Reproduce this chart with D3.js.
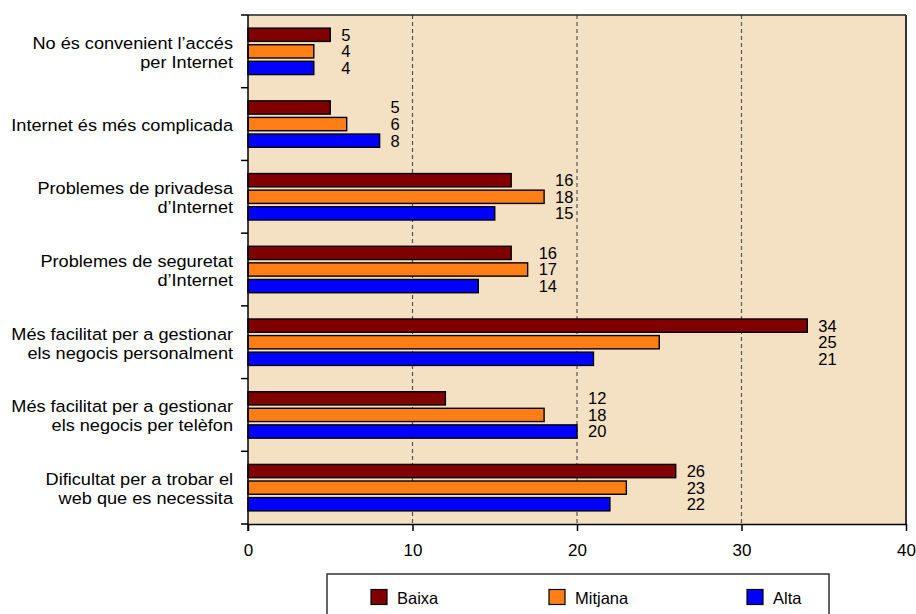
<!DOCTYPE html>
<html>
<head>
<meta charset="utf-8">
<script src="https://cdn.jsdelivr.net/npm/d3@7"></script>
<style>
  html, body { margin: 0; padding: 0; background: #ffffff; }
  svg { display: block; font-family: "Liberation Sans", Arial, sans-serif; }
</style>
</head>
<body>
<svg id="chart" width="916" height="614"></svg>
<script>
// Motius per no fer servir Internet, per nivell (Baixa / Mitjana / Alta)
const categories = [
  "No és convenient l’accés|per Internet",
  "Internet és més complicada",
  "Problemes de privadesa|d’Internet",
  "Problemes de seguretat|d’Internet",
  "Més facilitat per a gestionar|els negocis personalment",
  "Més facilitat per a gestionar|els negocis per telèfon",
  "Dificultat per a trobar el|web que es necessita"
];
const seriesNames = ["Baixa", "Mitjana", "Alta"];
const baixa   = [5, 5, 16, 16, 34, 12, 26];
const mitjana = [4, 6, 18, 17, 25, 18, 23];
const alta    = [4, 8, 15, 14, 21, 20, 22];
const xTicks  = [0, 10, 20, 30, 40];
const colors  = ["#800000", "#ff7f16", "#0000ff"];

const seriesValues = [baixa, mitjana, alta];

const svg = d3.select("#chart");
const margin = { left: 248, right: 10, top: 15, bottom: 90 };
const W = 916, H = 614;
const plotW = W - margin.left - margin.right;
const plotH = H - margin.top - margin.bottom;

const x = d3.scaleLinear().domain([0, 40]).range([0, plotW]);
const y = d3.scaleBand().domain(d3.range(categories.length)).range([0, plotH]).padding(0);
const inner = d3.scaleBand().domain(d3.range(seriesNames.length))
  .range([12.3, y.bandwidth() - 12.3]).paddingInner(0.2).paddingOuter(0.05);

const g = svg.append("g").attr("transform", `translate(${margin.left},${margin.top})`);

// plot background
g.append("rect").attr("x", 0).attr("y", 0).attr("width", plotW).attr("height", plotH)
  .attr("fill", "#f4e0c2");

// dashed reference lines
g.selectAll("line.grid").data(xTicks.filter(t => t > 0 && t < 40)).enter()
  .append("line").attr("class", "grid")
  .attr("x1", d => x(d)).attr("x2", d => x(d))
  .attr("y1", 0).attr("y2", plotH)
  .attr("stroke", "#555").attr("stroke-width", 1.2).attr("stroke-dasharray", "4,3");

// bars
categories.forEach((c, i) => {
  const grp = g.append("g").attr("transform", `translate(0,${y(i)})`);
  seriesValues.forEach((vals, s) => {
    grp.append("rect")
      .attr("x", x(0)).attr("y", inner(s))
      .attr("width", x(vals[i]) - x(0)).attr("height", inner.bandwidth())
      .attr("fill", colors[s]).attr("stroke", "#000").attr("stroke-width", 1.4);
  });
  // value labels, aligned to the right of the longest bar in the group
  const maxV = d3.max(seriesValues, v => v[i]);
  seriesValues.forEach((vals, s) => {
    grp.append("text")
      .attr("x", x(maxV) + 11).attr("y", inner(s) + inner.bandwidth() / 2)
      .attr("dy", "0.36em").attr("font-size", 16.5).attr("fill", "#000")
      .text(vals[i]);
  });
});

// frame: top and right edges
g.append("line").attr("x1", 0).attr("x2", plotW).attr("y1", 0).attr("y2", 0)
  .attr("stroke", "#222").attr("stroke-width", 1.5);
g.append("line").attr("x1", plotW).attr("x2", plotW).attr("y1", 0).attr("y2", plotH)
  .attr("stroke", "#333").attr("stroke-width", 2);

// x axis
const xAxis = g.append("g").attr("transform", `translate(0,${plotH})`)
  .call(d3.axisBottom(x).tickValues(xTicks).tickSize(7).tickPadding(13).tickSizeOuter(0));
xAxis.select(".domain").attr("stroke", "#000").attr("stroke-width", 1.5);
xAxis.selectAll(".tick line").attr("stroke", "#000").attr("stroke-width", 1.5);
xAxis.selectAll(".tick text").attr("font-size", 17).attr("fill", "#000")
  .attr("font-family", "Liberation Sans, Arial, sans-serif");

// y axis: ticks at group boundaries
const yLine = g.append("g");
yLine.append("line").attr("x1", 0).attr("x2", 0).attr("y1", 0).attr("y2", plotH + 7)
  .attr("stroke", "#000").attr("stroke-width", 1.5);
d3.range(categories.length + 1).forEach(i => {
  const yy = i < categories.length ? y(i) : plotH;
  yLine.append("line").attr("x1", -7).attr("x2", 0).attr("y1", yy).attr("y2", yy)
    .attr("stroke", "#000").attr("stroke-width", 1.5);
});

// category labels (slightly widened type)
categories.forEach((c, i) => {
  const lines = c.split("|");
  const cy = y(i) + y.bandwidth() / 2 + 1;
  const lh = 19;
  const t = g.append("g").attr("transform", `translate(-15,${cy}) scale(1.1,1)`)
    .append("text").attr("text-anchor", "end").attr("font-size", 16.5).attr("fill", "#000");
  lines.forEach((ln, k) => {
    t.append("tspan").attr("x", 0)
      .attr("y", (k - (lines.length - 1) / 2) * lh)
      .attr("dy", "0.36em").text(ln);
  });
});

// legend
const leg = svg.append("g").attr("transform", "translate(327,574)");
leg.append("rect").attr("x", 0).attr("y", 0).attr("width", 502).attr("height", 60)
  .attr("fill", "#fff").attr("stroke", "#333").attr("stroke-width", 1.5);
const legX = [44, 222, 420];
seriesNames.forEach((n, s) => {
  leg.append("rect").attr("x", legX[s]).attr("y", 15.5).attr("width", 16).attr("height", 15)
    .attr("fill", colors[s]).attr("stroke", "#000").attr("stroke-width", 1.2);
  leg.append("text").attr("x", legX[s] + 26).attr("y", 30).attr("font-size", 16.5)
    .attr("fill", "#000").text(n);
});
</script>
</body>
</html>
